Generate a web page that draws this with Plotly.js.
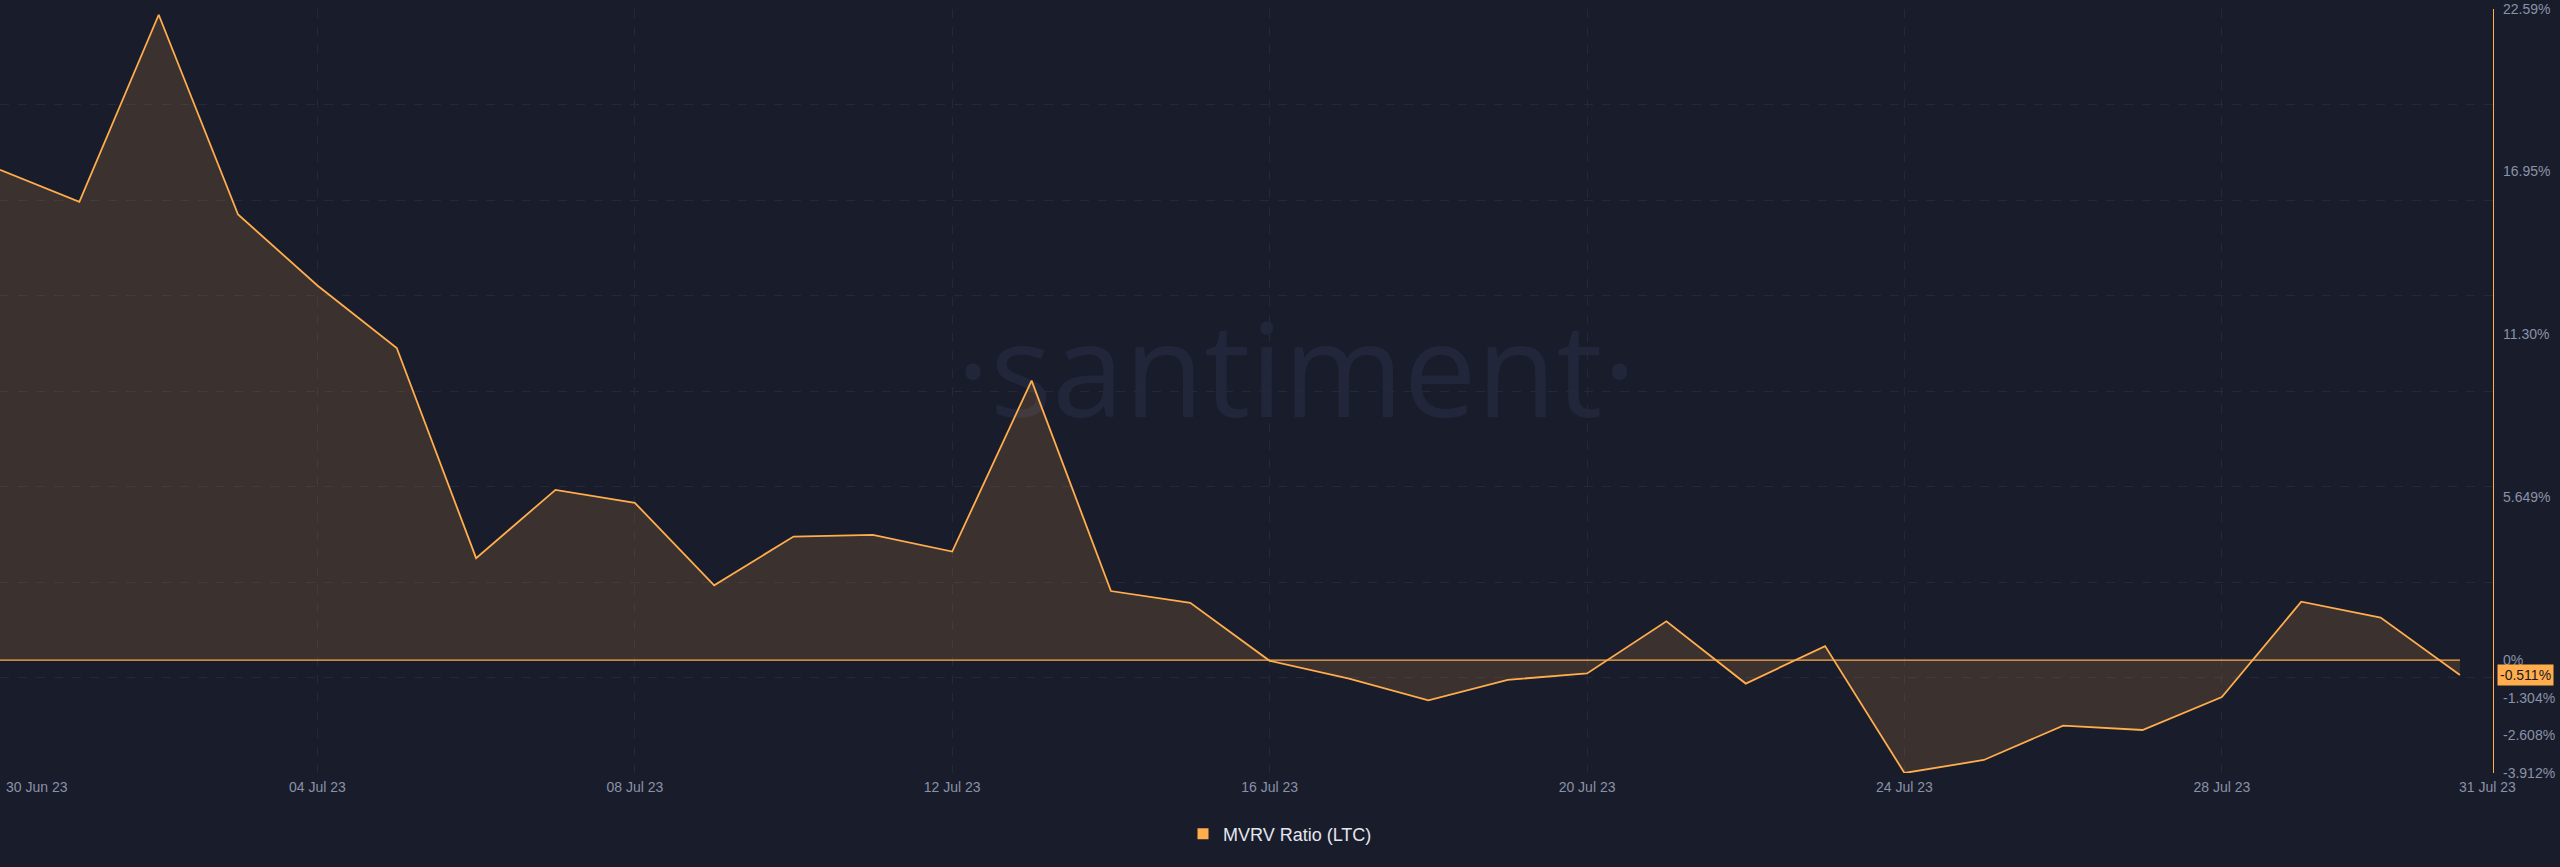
<!DOCTYPE html>
<html>
<head>
<meta charset="utf-8">
<script src="https://cdn.plot.ly/plotly-3.0.1.min.js"></script>
<style>
  html, body { margin: 0; padding: 0; background: #191c2b; }
  #chart { width: 2560px; height: 867px; }
</style>
</head>
<body>
<div id="chart"></div>
<script>
// ---- data ----
const dates = ['2023-06-30','2023-07-01','2023-07-02','2023-07-03','2023-07-04','2023-07-05','2023-07-06','2023-07-07',
  '2023-07-08','2023-07-09','2023-07-10','2023-07-11','2023-07-12','2023-07-13','2023-07-14','2023-07-15',
  '2023-07-16','2023-07-17','2023-07-18','2023-07-19','2023-07-20','2023-07-21','2023-07-22','2023-07-23',
  '2023-07-24','2023-07-25','2023-07-26','2023-07-27','2023-07-28','2023-07-29','2023-07-30','2023-07-31'];
const mvrv = [17.01, 15.90, 22.39, 15.46, 13.00, 10.83, 3.54, 5.91,
  5.46, 2.60, 4.29, 4.35, 3.77, 9.70, 2.40, 1.99,
  -0.02, -0.64, -1.39, -0.68, -0.46, 1.35, -0.81, 0.49,
  -3.912, -3.46, -2.27, -2.42, -1.28, 2.03, 1.48, -0.511];
const seriesName = 'MVRV Ratio (LTC)';

const xTickVals = ['2023-07-04','2023-07-08','2023-07-12','2023-07-16','2023-07-20','2023-07-24','2023-07-28'];
const xTickText = ['04 Jul 23','08 Jul 23','12 Jul 23','16 Jul 23','20 Jul 23','24 Jul 23','28 Jul 23'];
const xEdgeText = ['30 Jun 23', '31 Jul 23'];

const yTickVals = [22.59, 16.95, 11.30, 5.649, 0, -1.304, -2.608, -3.912];
const yTickText = ['22.59%','16.95%','11.30%','5.649%','0%','-1.304%','-2.608%','-3.912%'];
const yMin = -3.912, yMax = 22.59;
const lastLabel = '-0.511%';

// ---- styles ----
const ORANGE = '#ffad4d';
const BG = '#191c2b';
const GRID = '#242839';
const TICK = '#8a92a8';
const FONT = 'Liberation Sans, Arial, sans-serif';

const zeros = dates.map(() => 0);

const traces = [
  { x: dates, y: zeros, type: 'scatter', mode: 'lines', line: { color: ORANGE, width: 1.2 },
    hoverinfo: 'skip', showlegend: false },
  { x: dates, y: mvrv, type: 'scatter', mode: 'lines', fill: 'tonexty',
    fillcolor: 'rgba(255,173,77,0.15)', line: { color: ORANGE, width: 1.8 },
    name: seriesName, showlegend: false },
  { x: [dates[0]], y: [null], type: 'scatter', mode: 'markers', yaxis: 'y2',
    marker: { symbol: 'square', size: 11, color: ORANGE }, name: seriesName, showlegend: true,
    hoverinfo: 'skip' }
];

const layout = {
  width: 2560, height: 867,
  margin: { l: 0, r: 67, t: 9, b: 94 },
  paper_bgcolor: BG, plot_bgcolor: BG,
  font: { family: FONT, color: TICK, size: 14 },
  xaxis: {
    type: 'date', range: ['2023-06-30', '2023-07-31 10:00'],
    tickmode: 'array', tickvals: xTickVals, ticktext: xTickText,
    showgrid: true, gridcolor: GRID, griddash: 'dash', gridwidth: 1,
    zeroline: false, showline: false, ticks: '', ticklabelstandoff: 4,
    tickfont: { size: 14, color: TICK, family: FONT }, fixedrange: true
  },
  yaxis: {
    range: [yMin, yMax], side: 'right',
    tickmode: 'linear', tick0: yMin, dtick: (yMax - yMin) / 8,
    showticklabels: false, showgrid: true, gridcolor: GRID, griddash: 'dash',
    zeroline: false, showline: false, ticks: '', fixedrange: true
  },
  yaxis2: {
    overlaying: 'y', side: 'right', range: [yMin, yMax],
    tickmode: 'array', tickvals: yTickVals, ticktext: yTickText,
    showgrid: false, zeroline: false, showline: true, linecolor: ORANGE, linewidth: 1.2,
    ticks: '', ticklabelstandoff: 6,
    tickfont: { size: 14, color: TICK, family: FONT }, fixedrange: true
  },
  showlegend: true,
  legend: {
    orientation: 'h', xref: 'container', yref: 'container',
    x: 0.5, xanchor: 'center', y: 0.038, yanchor: 'middle',
    font: { size: 18, color: '#e4e6ee', family: FONT },
    bgcolor: 'rgba(0,0,0,0)'
  },
  shapes: [
    { type: 'rect', xref: 'paper', yref: 'paper', x0: 0.28, x1: 0.76, y0: 0.38, y1: 0.66,
      layer: 'below', line: { width: 0 }, fillcolor: 'rgba(0,0,0,0)',
      label: { text: '·santiment·', textposition: 'middle center',
        font: { size: 130, color: '#22263a', family: 'Open Sans, sans-serif' } } }
  ],
  annotations: [
    { xref: 'paper', yref: 'y', x: 1, y: mvrv[mvrv.length - 1], xanchor: 'left', yanchor: 'middle',
      xshift: 4, text: lastLabel, showarrow: false, bgcolor: ORANGE, borderpad: 2,
      font: { size: 14, color: '#161925', family: FONT } },
    { xref: 'x', yref: 'paper', x: dates[0], y: 0, xanchor: 'left', yanchor: 'middle',
      xshift: 4, yshift: -14, text: xEdgeText[0], showarrow: false,
      font: { size: 14, color: TICK, family: FONT } },
    { xref: 'paper', yref: 'paper', x: 1, y: 0, xanchor: 'center', yanchor: 'middle',
      xshift: -6, yshift: -14, text: xEdgeText[1], showarrow: false,
      font: { size: 14, color: TICK, family: FONT } }
  ]
};

Plotly.newPlot('chart', traces, layout, { displayModeBar: false, staticPlot: true });
</script>
</body>
</html>
